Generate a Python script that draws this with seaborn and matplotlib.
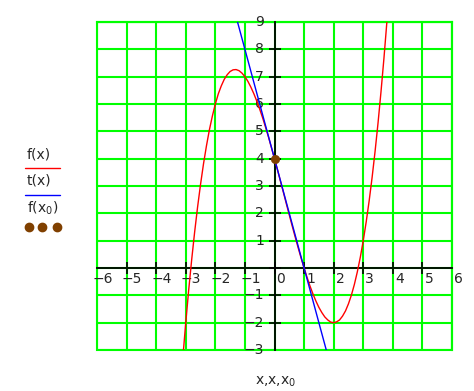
import matplotlib
matplotlib.use("Agg")
import matplotlib.pyplot as plt
import matplotlib.patches as mpatches
import seaborn as sns
import pandas as pd

# ---- data ----
fx_x = [-3.1, -3.0, -2.9, -2.8, -2.7, -2.6, -2.5, -2.4, -2.3, -2.2, -2.1, -2.0,
        -1.9, -1.8, -1.7, -1.6, -1.5, -1.4, -1.3, -1.2, -1.1, -1.0, -0.9, -0.8,
        -0.7, -0.6, -0.5, -0.4, -0.3, -0.2, -0.1, 0.0, 0.1, 0.2, 0.3, 0.4,
        0.5, 0.6, 0.7, 0.8, 0.9, 1.0, 1.1, 1.2, 1.3, 1.4, 1.5, 1.6,
        1.7, 1.8, 1.9, 2.0, 2.1, 2.2, 2.3, 2.4, 2.5, 2.6, 2.7, 2.8,
        2.9, 3.0, 3.1, 3.2, 3.3, 3.4, 3.5, 3.6, 3.7, 3.8]
fx_y = [-3.30, -2.00, -0.80, 0.30, 1.31, 2.23, 3.06, 3.81, 4.47, 5.06, 5.56, 6.00,
        6.37, 6.66, 6.90, 7.07, 7.19, 7.25, 7.26, 7.22, 7.13, 7.00, 6.83, 6.62,
        6.38, 6.11, 5.81, 5.49, 5.14, 4.78, 4.39, 4.00, 3.60, 3.18, 2.77, 2.35,
        1.94, 1.53, 1.13, 0.74, 0.36, 0.00, -0.34, -0.66, -0.95, -1.21, -1.44, -1.63,
        -1.79, -1.90, -1.98, -2.00, -1.97, -1.90, -1.76, -1.57, -1.31, -0.99, -0.60, -0.14,
        0.39, 1.00, 1.69, 2.46, 3.32, 4.27, 5.31, 6.45, 7.68, 9.02]
tx_x = [-1.25, 1.75]
tx_y = [9.0, -3.0]
x0_x = [0.0]
x0_y = [4.0]
x_ticks = [-6, -5, -4, -3, -2, -1, 0, 1, 2, 3, 4, 5, 6]
y_ticks = [-3, -2, -1, 1, 2, 3, 4, 5, 6, 7, 8, 9]
legend_labels = ["f(x)", "t(x)", "f(x$_0$)"]
x_label = "x,x,x$_0$"

RED = "#FF0000"
BLUE = "#0000FF"
GREEN = "#00FF00"
BROWN = "#804000"

sns.set_style("white")
plt.rcParams["font.family"] = ["DejaVu Sans"]

W, H = 474, 391
fig = plt.figure(figsize=(W / 100, H / 100), dpi=100)
ax = fig.add_axes([97 / W, 1 - 350 / H, (452 - 97) / W, (350 - 22) / H])

df_f = pd.DataFrame({"x": fx_x, "y": fx_y})
df_t = pd.DataFrame({"x": tx_x, "y": tx_y})
df_p = pd.DataFrame({"x": x0_x, "y": x0_y})

sns.lineplot(data=df_f, x="x", y="y", sort=False, estimator=None, color=RED,
             linewidth=1.0, ax=ax, zorder=4)
sns.lineplot(data=df_t, x="x", y="y", sort=False, estimator=None, color=BLUE,
             linewidth=1.0, ax=ax, zorder=4)
sns.scatterplot(data=df_p, x="x", y="y", color=BROWN, s=36, edgecolor=BROWN,
                ax=ax, zorder=5)

ax.set_xlim(-6, 6)
ax.set_ylim(-3, 9)
ax.set_xticks(x_ticks)
ax.set_yticks(y_ticks + [0])
ax.set_xlabel("")
ax.set_ylabel("")
ax.grid(True, color=GREEN, linewidth=1.5)
ax.set_axisbelow(True)

ax.spines["left"].set_position(("data", 0))
ax.spines["bottom"].set_position(("data", 0))
for s in ("left", "bottom"):
    ax.spines[s].set_color("black")
    ax.spines[s].set_linewidth(1.3)
    ax.spines[s].set_zorder(3)
for s in ("top", "right"):
    ax.spines[s].set_color(GREEN)
    ax.spines[s].set_linewidth(1.5)
ax.add_patch(mpatches.Rectangle((0, 0), 1, 1, transform=ax.transAxes, fill=False,
                                edgecolor=GREEN, linewidth=1.5, clip_on=False, zorder=1))
ax.tick_params(axis="both", direction="inout", length=9, width=1.2, color="black",
               labelleft=False, labelbottom=False, left=True, bottom=True)

# tick labels placed next to the axes through the origin
for v in x_ticks:
    lbl = "\u2212" + str(abs(v)) if v < 0 else str(v)
    dx = -3.5 if v < 0 else 1.5
    ax.annotate(lbl, xy=(v, 0), xytext=(dx, -3), textcoords="offset points",
                ha="left", va="top", fontsize=10, annotation_clip=False)
for v in y_ticks:
    lbl = "\u2212" + str(abs(v)) if v < 0 else str(v)
    ax.annotate(lbl, xy=(0, v), xytext=(-7.5, 0), textcoords="offset points",
                ha="right", va="center", fontsize=10, annotation_clip=False)

# x label
fig.text(276 / W, 1 - 382 / H, x_label, ha="center", va="center", fontsize=10)

# legend on the left
def fy(p):
    return 1 - p / H

fig.text(27 / W, fy(154), legend_labels[0], ha="left", va="center", fontsize=10)
fig.add_artist(plt.Line2D([25 / W, 60 / W], [fy(168), fy(168)], color=RED, linewidth=1.0))
fig.text(27 / W, fy(181), legend_labels[1], ha="left", va="center", fontsize=10)
fig.add_artist(plt.Line2D([25 / W, 60 / W], [fy(195), fy(195)], color=BLUE, linewidth=1.0))
fig.text(27 / W, fy(208), legend_labels[2], ha="left", va="center", fontsize=10)
for px in (29, 42, 57):
    fig.add_artist(plt.Line2D([px / W], [fy(227)], marker="o", markersize=6,
                              color=BROWN, linestyle="none"))

fig.savefig("out.png", dpi=100)
